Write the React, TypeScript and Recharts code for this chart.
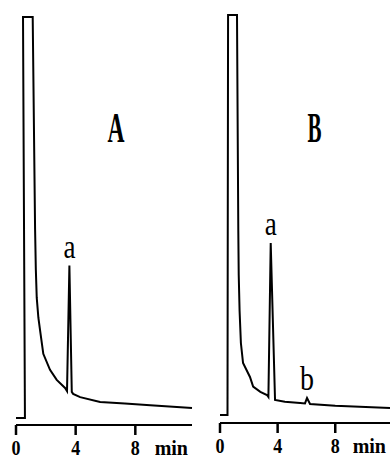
import { LineChart, Line, XAxis, YAxis, ReferenceDot } from 'recharts';

// chromatogram A: retention time (min) and detector signal (% of full scale)
const timeA = [0, 0.6, 0.47, 1.12, 1.28, 1.33, 1.39, 1.5, 1.61, 1.83, 2.28, 2.73, 3.29, 3.42, 3.58, 3.74, 3.83, 4.3, 5.64, 7.3, 9.0, 11.8];
const signalA = [0, 0, 100, 100, 47, 37, 30, 25, 22, 16, 12, 9.5, 7.5, 6.7, 38, 6.5, 6.0, 5.2, 4.0, 3.6, 3.2, 2.5];

// chromatogram B
const timeB = [0, 0.52, 0.56, 1.18, 1.27, 1.3, 1.36, 1.45, 1.6, 2.08, 2.3, 2.8, 3.26, 3.36, 3.52, 3.82, 4.5, 5.56, 5.9, 6.04, 6.25, 8.0, 11.8];
const signalB = [0, 0, 100, 100, 46, 35, 26, 18, 13, 9.5, 7.1, 5.8, 5.0, 4.5, 43, 3.75, 3.3, 3.0, 2.9, 4.25, 2.75, 2.3, 1.75];

const tickValues = [0, 4, 8];

// peak labels: [text, time, signal]
const peaksA: [string, number, number][] = [['a', 3.58, 38]];
const peaksB: [string, number, number][] = [['a', 3.52, 43], ['b', 6.04, 4.25]];

const SERIF = '"Liberation Serif", "Times New Roman", serif';

const toRows = (t: number[], v: number[]) => t.map((x, i) => ({ t: x, v: v[i] }));

const textLabel = (text: string, size: number, width: number, weight: string, dy: number) =>
  (props: any) => {
    const vb = props.viewBox || {};
    return (
      <text x={vb.x} y={vb.y + dy} textAnchor="middle" fontFamily={SERIF} fontSize={size}
        fontWeight={weight} textLength={width} lengthAdjust="spacingAndGlyphs" fill="#000">
        {text}
      </text>
    );
  };

const Tick = (props: any) => {
  const { x, y, payload } = props;
  return (
    <text x={x} y={y + 18} textAnchor="middle" fontFamily={SERIF} fontSize={21} fontWeight="bold"
      textLength={9} lengthAdjust="spacingAndGlyphs" fill="#000">
      {payload.value}
    </text>
  );
};

const minLabel = (props: any) => {
  const vb = props.viewBox || {};
  return (
    <text x={vb.x + vb.width - 4} y={vb.y + 30} textAnchor="end" fontFamily={SERIF} fontSize={20}
      fontWeight="bold" fill="#000">
      min
    </text>
  );
};

type PanelProps = {
  rows: { t: number; v: number }[];
  peaks: [string, number, number][];
  name: string;
  nameAt: [number, number];
  nameWidth: number;
  width: number;
  margin: { top: number; right: number; bottom: number; left: number };
  yMin: number;
  axisHeight: number;
};

const Panel = ({ rows, peaks, name, nameAt, nameWidth, width, margin, yMin, axisHeight }: PanelProps) => (
  <LineChart width={width} height={459} data={rows} margin={margin}>
    <XAxis dataKey="t" type="number" domain={[0, 11.8]} ticks={tickValues} height={axisHeight}
      axisLine={{ stroke: '#000', strokeWidth: 2 }} tickLine={{ stroke: '#000', strokeWidth: 2.5 }}
      tickSize={10} tick={<Tick />} label={{ content: minLabel }} />
    <YAxis hide type="number" domain={[yMin, 100]} />
    <Line dataKey="v" type="linear" stroke="#000" strokeWidth={2} dot={false} isAnimationActive={false} />
    {peaks.map(([text, t, v]) => (
      <ReferenceDot key={text} x={t} y={v} r={0} label={{ content: textLabel(text, 34, text === 'b' ? 14 : 12, 'normal', -8) }} />
    ))}
    <ReferenceDot x={nameAt[0]} y={nameAt[1]} r={0} label={{ content: textLabel(name, 42, nameWidth, 'bold', 0) }} />
  </LineChart>
);

export default function App() {
  return (
    <div style={{ position: 'absolute', left: 0, top: 0, width: 390, height: 459, background: '#fff', overflow: 'hidden' }}>
      <div style={{ position: 'absolute', left: 0, top: 0 }}>
        <Panel rows={toRows(timeA, signalA)} peaks={peaksA} name="A" nameAt={[6.71, 68.8]} nameWidth={17}
          width={200} margin={{ top: 17, right: 8, bottom: 4, left: 16 }} yMin={-1.75} axisHeight={30} />
      </div>
      <div style={{ position: 'absolute', left: 200, top: 0 }}>
        <Panel rows={toRows(timeB, signalB)} peaks={peaksB} name="B" nameAt={[6.56, 68.25]} nameWidth={14}
          width={190} margin={{ top: 15, right: 0, bottom: 4, left: 20 }} yMin={-2} axisHeight={32} />
      </div>
    </div>
  );
}
